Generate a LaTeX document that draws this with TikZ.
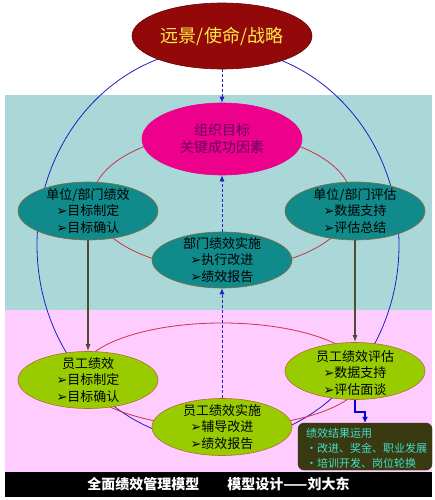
\documentclass[tikz,border=0pt]{standalone}
\usepackage{fontspec}
\setmainfont{Noto Sans CJK SC}
\newfontfamily\dvfont{DejaVu Sans}
\usetikzlibrary{shapes.geometric,arrows.meta}
\definecolor{tealbg}{HTML}{AAD8D8}
\definecolor{pinkbg}{HTML}{FFCCFF}
\definecolor{visionred}{HTML}{930808}
\definecolor{visiontext}{HTML}{FFEE44}
\definecolor{tealnode}{HTML}{108A8A}
\definecolor{greennode}{HTML}{99CC00}
\definecolor{brownedge}{HTML}{8B6A3A}
\definecolor{orangeedge}{HTML}{B8682A}
\definecolor{orgtext}{HTML}{660066}
\definecolor{bluel}{HTML}{2020C0}
\definecolor{redl}{HTML}{CC3344}
\definecolor{darkarrow}{HTML}{4D4D33}
\definecolor{boxfill}{HTML}{3A3A12}
\definecolor{boxtext}{HTML}{40E0C8}
\newcommand{\bul}{{\dvfont ➢}}
\begin{document}
\begin{tikzpicture}[x=1pt,y=-1pt,
  ell/.style={ellipse, inner sep=0pt, line width=0.6pt},
  tealell/.style={ell, fill=tealnode, draw=brownedge, minimum width=140pt, minimum height=58pt},
  greenell/.style={ell, fill=greennode, draw=orangeedge, minimum width=140pt, minimum height=57pt},
  etext/.style={align=center, inner sep=0pt, font=\fontsize{13}{16.5}\selectfont, text=black},
  dasharrow/.style={draw=bluel, line width=0.8pt, dash pattern=on 3pt off 2pt, -{Latex[length=6pt,width=5pt]}},
  solidarrow/.style={draw=darkarrow, line width=1.2pt, -{Latex[length=7pt,width=5pt]}},
  bigring/.style={draw=bluel, line width=0.8pt},
  redring/.style={draw=redl, line width=0.8pt}
]
\useasboundingbox (0,0) rectangle (435,500);
\fill[white] (0,0) rectangle (435,500);
\fill[tealbg] (5,95) rectangle (432,310);
\fill[pinkbg] (5,310) rectangle (432,472);

% rings
\draw[bigring] (218,245) ellipse [x radius=181pt, y radius=197pt];
\draw[redring] (222,201) ellipse [x radius=130pt, y radius=68pt];
\draw[redring] (222,375) ellipse [x radius=142pt, y radius=52pt];

% nodes
\node[ell, fill=visionred, draw=visionred!70!black, minimum width=180pt, minimum height=66pt] (vision) at (222,36) {};
\node[text=visiontext, font=\fontsize{18}{20}\selectfont, inner sep=0pt] (visiont) at (vision.center) {远景/使命/战略};

\node[ell, fill=magenta, draw=magenta, minimum width=160pt, minimum height=72pt] (org) at (222,139) {};
\node[etext, text=orgtext, font=\fontsize{14}{17}\selectfont] (orgt) at (org.center) {组织目标\\关键成功因素};

\node[tealell] (unitperf) at (88,211) {};
\node[etext] (unitperft) at (unitperf.center) {单位/部门绩效\\\bul 目标制定\\\bul 目标确认};

\node[tealell] (uniteval) at (355,211) {};
\node[etext] (unitevalt) at (uniteval.center) {单位/部门评估\\\bul 数据支持\\\bul 评估总结};

\node[tealell, minimum height=56pt] (deptimpl) at (222,260) {};
\node[etext] (deptimplt) at (deptimpl.center) {部门绩效实施\\\bul 执行改进\\\bul 绩效报告};

\node[greenell] (empperf) at (88,380) {};
\node[etext] (empperft) at (empperf.center) {员工绩效\\\bul 目标制定\\\bul 目标确认};

\node[greenell] (empeval) at (355,371) {};
\node[etext] (empevalt) at (355,373) {员工绩效评估\\\bul 数据支持\\\bul 评估面谈};

\node[greenell] (empimpl) at (222,427) {};
\node[etext] (empimplt) at (empimpl.center) {员工绩效实施\\\bul 辅导改进\\\bul 绩效报告};

\node[fill=boxfill, draw=boxfill!80!black, rounded corners=6pt, minimum width=134pt, minimum height=47pt, inner sep=0pt] (result) at (365,446.5) {};
\node[text=boxtext, align=left, anchor=west, inner sep=0pt, font=\fontsize{11}{15}\selectfont] (resultt) at (306,448) {绩效结果运用\\•改进、奖金、职业发展\\•培训开发、岗位轮换};

\node[fill=black, minimum width=427pt, minimum height=25pt, inner sep=0pt] (footer) at (218.5,484.5) {};
\node[text=white, font=\bfseries\fontsize{14}{16}\selectfont, inner sep=0pt] (footert) at (218.5,484) {全面绩效管理模型\hspace{28pt}模型设计——刘大东};

% connectors
\draw[dasharrow] (vision.south) -- (org.north);
\draw[dasharrow] (deptimpl.north) -- (org.south);
\draw[dasharrow] (empimpl.north) -- (deptimpl.south);
\draw[solidarrow] (unitperf.south) -- (empperf.north);
\draw[solidarrow] (uniteval.south) -- (empeval.north);
\coordinate (bend) at (365,412);
\draw[draw=blue!85!black, line width=1.6pt, -{Latex[length=6pt,width=6pt]}] (empeval.south) |- (bend) -- (result.north);
\end{tikzpicture}
\end{document}
